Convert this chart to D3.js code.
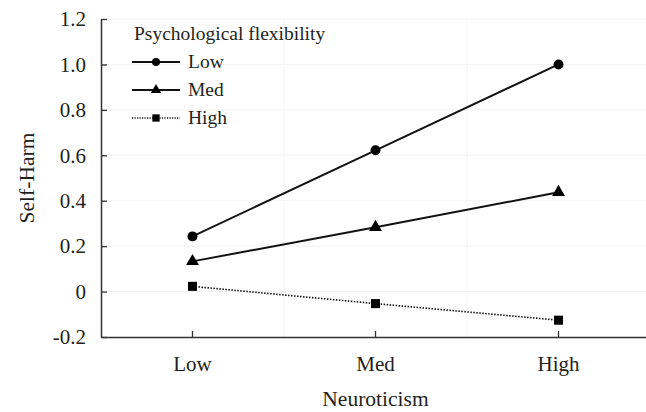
<!DOCTYPE html>
<html><head><meta charset="utf-8">
<script src="https://cdn.jsdelivr.net/npm/d3@7"></script>
<style>
html,body{margin:0;padding:0;background:#fff;}
text{font-family:"Liberation Serif","Times New Roman",serif;fill:#231f20;}
</style></head>
<body><svg id="chart" width="646" height="412"></svg>
<script>
const categories = ["Low", "Med", "High"];
const seriesNames = ["Low", "Med", "High"];
const lowValues = [0.243, 0.622, 1.0];
const medValues = [0.133, 0.283, 0.437];
const highValues = [0.023, -0.053, -0.126];
const yTicks = [-0.2, 0, 0.2, 0.4, 0.6, 0.8, 1.0, 1.2];
const yTickLabels = ["-0.2", "0", "0.2", "0.4", "0.6", "0.8", "1.0", "1.2"];
const legendTitle = "Psychological flexibility";
const xTitle = "Neuroticism";
const yTitle = "Self-Harm";

const svg = d3.select("#chart");
const m = {left: 101, right: -4, top: 19, bottom: 75};
const W = 646, H = 412;
const x = d3.scaleBand().domain(categories).range([m.left, W - m.right]).padding(0);
const y = d3.scaleLinear().domain([-0.2, 1.2]).range([H - m.bottom, m.top]);
const cx = d => x(d) + x.bandwidth() / 2;

// faint gridlines
const g = svg.append("g");
g.selectAll(".hg").data(yTicks.slice(1)).enter().append("line")
  .attr("x1", m.left).attr("x2", W).attr("y1", d => y(d)).attr("y2", d => y(d))
  .attr("stroke", "#f4f4f4").attr("stroke-width", 1);
g.selectAll(".vg").data(categories.slice(1)).enter().append("line")
  .attr("x1", d => x(d)).attr("x2", d => x(d)).attr("y1", m.top).attr("y2", y(-0.2))
  .attr("stroke", "#f4f4f4").attr("stroke-width", 1);

const tickFs = 21, titleFs = 21.5, legFs = 19.5;
// y axis
const yAxis = d3.axisLeft(y).tickValues(yTicks).tickFormat((d, i) => yTickLabels[i]).tickSizeInner(-6).tickSizeOuter(0).tickPadding(15);
const ya = svg.append("g").attr("transform", `translate(${m.left},0)`).call(yAxis);
ya.attr("font-family", null).attr("font-size", null);
ya.select(".domain").attr("stroke", "#333").attr("stroke-width", 1.5);
ya.selectAll(".tick line").attr("stroke", "#333").attr("stroke-width", 1.3);
ya.selectAll("text").style("font-family", '"Liberation Serif", serif').style("font-size", tickFs + "px").attr("fill", "#231f20");

// x axis
const xAxis = d3.axisBottom(x).tickSizeInner(-6).tickSizeOuter(0).tickPadding(19);
const xa = svg.append("g").attr("transform", `translate(0,${y(-0.2)})`).call(xAxis);
xa.attr("font-family", null).attr("font-size", null);
xa.select(".domain").attr("stroke", "#333").attr("stroke-width", 1.5);
xa.selectAll(".tick line").attr("stroke", "#333").attr("stroke-width", 1.3);
xa.selectAll("text").style("font-family", '"Liberation Serif", serif').style("font-size", tickFs + "px").attr("fill", "#231f20");

svg.append("text").attr("x", cx("Med")).attr("y", 406).attr("text-anchor", "middle")
  .style("font-size", titleFs + "px").text(xTitle);
svg.append("text").attr("transform", `translate(34,${(y(-0.2) + y(1.2)) / 2}) rotate(-90)`)
  .attr("text-anchor", "middle").style("font-size", titleFs + "px").text(yTitle);

const series = [
  {name: seriesNames[0], values: lowValues, dash: null, marker: "circle"},
  {name: seriesNames[1], values: medValues, dash: null, marker: "triangle"},
  {name: seriesNames[2], values: highValues, dash: "1.5,1.5", marker: "square"}
];
const symType = {circle: d3.symbolCircle, triangle: d3.symbolTriangle, square: d3.symbolSquare};
const symSize = {circle: 78, triangle: 72, square: 82};
const line = d3.line().x((d, i) => cx(categories[i])).y(d => y(d));

series.forEach(s => {
  svg.append("path").datum(s.values).attr("d", line).attr("fill", "none")
    .attr("stroke", "#111").attr("stroke-width", s.dash ? 1.6 : 2)
    .attr("stroke-dasharray", s.dash);
  svg.selectAll(null).data(s.values).enter().append("path")
    .attr("d", d3.symbol().type(symType[s.marker]).size(symSize[s.marker]))
    .attr("transform", (d, i) => `translate(${cx(categories[i])},${y(d)})`)
    .attr("fill", "#000");
});

// legend
const lg = svg.append("g");
lg.append("text").attr("x", 134).attr("y", 40).style("font-size", legFs + "px").text(legendTitle);
series.forEach((s, i) => {
  const yy = 62 + i * 28;
  lg.append("line").attr("x1", 132).attr("x2", 180).attr("y1", yy).attr("y2", yy)
    .attr("stroke", "#111").attr("stroke-width", s.dash ? 1.4 : 2).attr("stroke-dasharray", s.dash ? "1.2,1.3" : null);
  lg.append("path").attr("d", d3.symbol().type(symType[s.marker]).size(symSize[s.marker] * 0.65))
    .attr("transform", `translate(156,${yy})`).attr("fill", "#000");
  lg.append("text").attr("x", 188).attr("y", yy + 6).style("font-size", legFs + "px").text(s.name);
});
</script></body></html>
